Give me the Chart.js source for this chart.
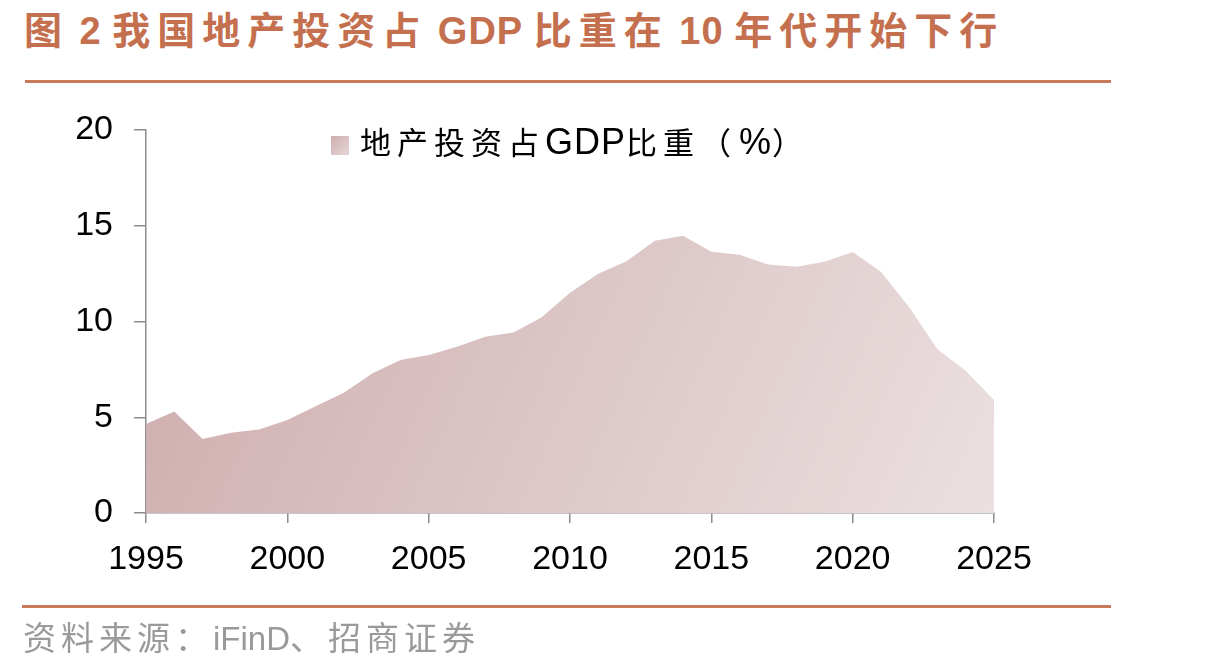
<!DOCTYPE html>
<html>
<head>
<meta charset="utf-8">
<script src="https://cdn.jsdelivr.net/npm/chart.js@4.4.0/dist/chart.umd.min.js"></script>
<style>
    html, body { margin: 0; padding: 0; background: #fff; }
    body { width: 1216px; height: 669px; position: relative; overflow: hidden; }
    .title {
        position: absolute; left: 24px; top: 5px;
        font-family: "Noto Sans CJK SC", "Liberation Sans", sans-serif;
        font-weight: bold; font-size: 38px; letter-spacing: 7px;
        color: #c4704f; white-space: nowrap; line-height: 46px;
    }
    .title .lat { font-family: "Liberation Sans", Arial, sans-serif; letter-spacing: 1px; }
    .title .sp { letter-spacing: 0; font-family: "Liberation Sans", Arial, sans-serif; }
    .rule { position: absolute; height: 3px; background: #c97a5c; }
    .source {
        position: absolute; left: 23px; top: 616px;
        font-family: "Noto Sans CJK SC", "Liberation Sans", sans-serif;
        font-size: 33px; letter-spacing: 5px; color: #9a9a9a;
        white-space: nowrap; line-height: 40px;
    }
    .source .lat { font-family: "Liberation Sans", Arial, sans-serif; letter-spacing: 0; }
    .legend {
        position: absolute; left: 331px; top: 120px;
        font-family: "Noto Sans CJK SC", "Liberation Sans", sans-serif;
        font-size: 31px; color: #000; white-space: nowrap; line-height: 42px;
        letter-spacing: 6px;
    }
    .legend .lat { font-family: "Liberation Sans", Arial, sans-serif; font-size: 36px; letter-spacing: 1px; }
    .legend .paren { letter-spacing: 8px; }
    .legend .box {
        display: inline-block; width: 18px; height: 19px; vertical-align: -1px;
        margin-right: 11px; letter-spacing: 0;
        background: linear-gradient(135deg, #cfaeaf, #e6d6d7);
    }
    #chartWrap { position: absolute; left: 0; top: 0; width: 1216px; height: 669px; }
</style>
</head>
<body>
<div class="title">图<span class="sp"> </span><span class="lat">2</span><span class="sp"> </span>我国地产投资占<span class="sp"> </span><span class="lat">GDP</span><span class="sp"> </span>比重在<span class="sp"> </span><span class="lat">10</span><span class="sp"> </span>年代开始下行</div>
<div class="rule" style="left:25px; top:80px; width:1086px;"></div>
<div id="chartWrap"><canvas id="areaChart"></canvas></div>
<div class="legend"><span class="box"></span>地产投资占<span class="lat">GDP</span>比重<span class="paren">（</span><span class="lat">%</span><span class="paren">）</span></div>
<div class="rule" style="left:22px; top:605px; width:1089px;"></div>
<div class="source">资料来源：<span class="lat">iFinD</span>、招商证券</div>

<script>
// Data
const years = [1995, 1996, 1997, 1998, 1999, 2000, 2001, 2002, 2003, 2004,
               2005, 2006, 2007, 2008, 2009, 2010, 2011, 2012, 2013, 2014,
               2015, 2016, 2017, 2018, 2019, 2020, 2021, 2022, 2023, 2024, 2025];
const shareOfGdp = [4.65, 5.3, 3.87, 4.19, 4.36, 4.86, 5.57, 6.28, 7.29, 7.99,
                    8.25, 8.68, 9.21, 9.42, 10.22, 11.5, 12.5, 13.14, 14.22, 14.48,
                    13.64, 13.49, 12.97, 12.86, 13.12, 13.63, 12.6, 10.74, 8.55, 7.43, 5.9];
const yTicks = [0, 5, 10, 15, 20];
const xTicks = [1995, 2000, 2005, 2010, 2015, 2020, 2025];

const axisGray = '#8c8c8c';

// Diagonal fill, darker at top-left
function areaGradient(context) {
    const chart = context.chart;
    const area = chart.chartArea;
    if (!area) return '#d4b8b9';
    const g = chart.ctx.createLinearGradient(area.left, area.top, area.right, area.bottom);
    g.addColorStop(0, '#cdaaab');
    g.addColorStop(1, '#ebe0e0');
    return g;
}

document.addEventListener('DOMContentLoaded', function() {
    const ctx = document.getElementById('areaChart').getContext('2d');

    new Chart(ctx, {
        type: 'line',
        data: {
            datasets: [{
                label: '地产投资占GDP比重（%）',
                data: years.map((yr, i) => ({ x: yr, y: shareOfGdp[i] })),
                fill: 'origin',
                backgroundColor: areaGradient,
                borderWidth: 0,
                pointRadius: 0,
                tension: 0
            }]
        },
        options: {
            responsive: true,
            maintainAspectRatio: false,
            animation: false,
            layout: {
                padding: { left: 46, right: 222, top: 130, bottom: 96 }
            },
            plugins: {
                legend: { display: false },
                tooltip: { enabled: false }
            },
            scales: {
                x: {
                    type: 'linear',
                    min: 1995,
                    max: 2025,
                    afterBuildTicks: scale => {
                        scale.ticks = xTicks.map(v => ({ value: v }));
                    },
                    afterFit: scale => { scale.height = 60; },
                    grid: {
                        drawOnChartArea: false,
                        drawTicks: true,
                        tickLength: 10,
                        color: axisGray,
                        lineWidth: 1.5
                    },
                    border: { display: true, color: axisGray, width: 1.5 },
                    ticks: {
                        color: '#000',
                        padding: 16,
                        maxRotation: 0,
                        font: { family: 'Liberation Sans, Arial, sans-serif', size: 34 },
                        callback: v => String(v)
                    }
                },
                y: {
                    min: 0,
                    max: 20,
                    afterBuildTicks: scale => {
                        scale.ticks = yTicks.map(v => ({ value: v }));
                    },
                    afterFit: scale => { scale.width = 100; },
                    grid: {
                        drawOnChartArea: false,
                        drawTicks: true,
                        tickLength: 12,
                        color: axisGray,
                        lineWidth: 1.5
                    },
                    border: { display: true, color: axisGray, width: 1.5 },
                    ticks: {
                        color: '#000',
                        padding: 21,
                        font: { family: 'Liberation Sans, Arial, sans-serif', size: 34 }
                    }
                }
            }
        }
    });
});
</script>
</body>
</html>
